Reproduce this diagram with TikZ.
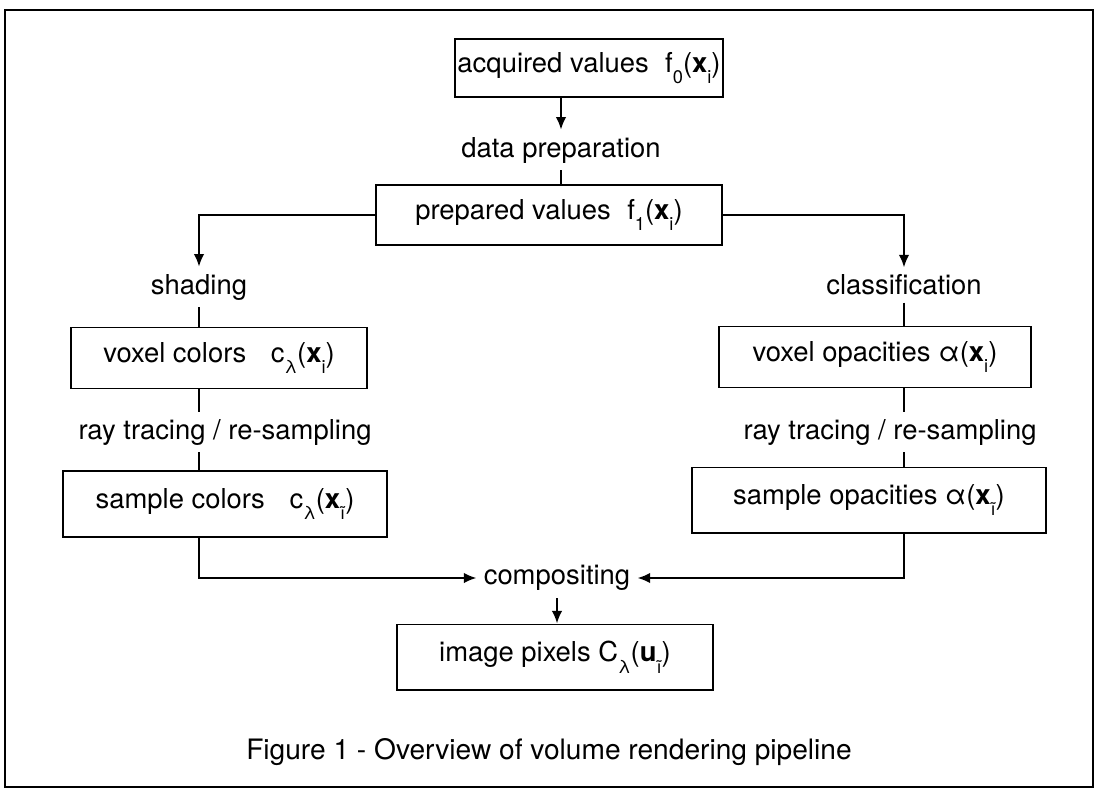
\documentclass[tikz,border=0pt]{standalone}
\usepackage{fontspec}
\setsansfont{TeX Gyre Heros}
\usetikzlibrary{arrows.meta}
\newcommand{\lowsub}[1]{\raisebox{-0.8ex}{\fontsize{13}{13}\selectfont #1}}
\begin{document}
\begin{tikzpicture}[x=0.025cm, y=-0.025cm, font=\sffamily\fontsize{19.5}{22}\selectfont, >={Latex[length=9pt,width=7.5pt]},
box/.style={draw, line width=1.4pt, inner sep=0pt, align=center},
lbl/.style={inner xsep=5pt, inner ysep=5pt},
wire/.style={line width=1.4pt},
arr/.style={line width=1.4pt, ->}]
\useasboundingbox (0,0) rectangle (1098,790);
\draw[line width=1.8pt] (5,10) rectangle (1093,787);

\node[box, minimum width=6.70cm, minimum height=1.45cm] (acq) at (589,68) {acquired values\hspace{0.6em}f\lowsub{0}(\textbf{x}\lowsub{i})};
\node[lbl] (dprep) at (561,150) {data preparation};
\node[box, minimum width=8.65cm, minimum height=1.50cm] (prep) at (549,215) {prepared values\hspace{0.6em}f\lowsub{1}(\textbf{x}\lowsub{i})};

\node[lbl] (shade) at (199,287) {shading};
\node[box, minimum width=7.375cm, minimum height=1.525cm] (vcol) at (219,358) {voxel colors\hspace{0.9em}c\lowsub{λ}(\textbf{x}\lowsub{i})};
\node[lbl] (rtl) at (225,432) {ray tracing / re-sampling};
\node[box, minimum width=8.10cm, minimum height=1.65cm] (scol) at (225,504) {sample colors\hspace{0.9em}c\lowsub{λ}(\textbf{x}\lowsub{ĩ})};

\node[lbl] (classif) at (904,285) {classification};
\node[box, minimum width=7.775cm, minimum height=1.525cm] (vopa) at (875,357) {voxel opacities\hspace{0.3em}α(\textbf{x}\lowsub{i})};
\node[lbl] (rtr) at (890,432) {ray tracing / re-sampling};
\node[box, minimum width=8.85cm, minimum height=1.625cm] (sopa) at (869,500) {sample opacities α(\textbf{x}\lowsub{ĩ})};

\node[lbl] (comp) at (557,578) {compositing};
\node[box, minimum width=7.875cm, minimum height=1.625cm] (img) at (555,657) {image pixels C\lowsub{λ}(\textbf{u}\lowsub{ĩ})};
\node[font=\sffamily\fontsize{20}{22}\selectfont] (title) at (549,752) {Figure 1 - Overview of volume rendering pipeline};

\draw[arr] (acq.south -| dprep) -- (dprep.north);
\draw[wire] (dprep.south) -- (dprep.south |- prep.north);
\draw[arr] (prep.west) -| (shade.north);
\draw[arr] (prep.east) -| (classif.north);

\draw[wire] (shade.south) -- (shade.south |- vcol.north);
\draw[wire] (vcol.south -| shade) -- (rtl.north -| shade);
\draw[wire] (rtl.south -| shade) -- (scol.north -| shade);
\draw[arr] (scol.south -| shade) |- (comp.west);

\draw[wire] (classif.south) -- (classif.south |- vopa.north);
\draw[wire] (vopa.south -| classif) -- (rtr.north -| classif);
\draw[wire] (rtr.south -| classif) -- (sopa.north -| classif);
\draw[arr] (sopa.south -| classif) |- (comp.east);

\draw[arr] (comp.south) -- (img.north -| comp.south);
\end{tikzpicture}
\end{document}
